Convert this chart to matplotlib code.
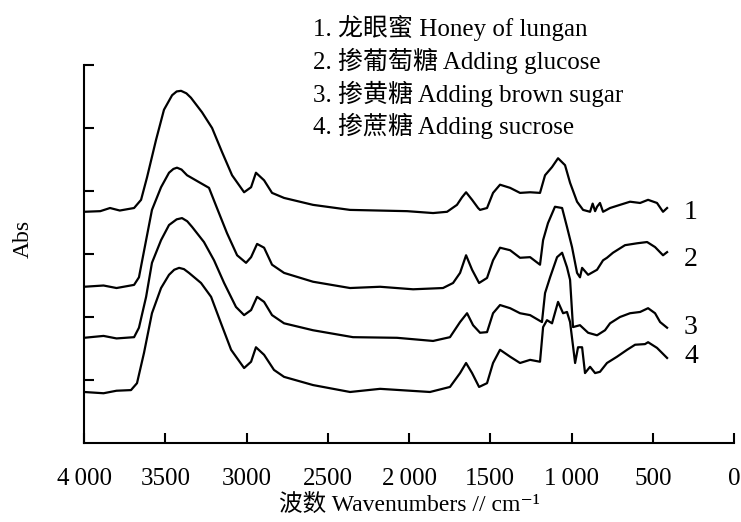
import matplotlib
matplotlib.use("Agg")
import matplotlib.pyplot as plt

plt.rcParams['font.family'] = ['Liberation Serif', 'Noto Sans CJK SC', 'DejaVu Sans']

# IR spectra: wavenumber (cm-1) and absorbance (offset, arbitrary units)
wn1 = [4000, 3900, 3840, 3780, 3692, 3649, 3612, 3557, 3508, 3458, 3430, 3403, 3370, 3342,
       3274, 3212, 3151, 3089, 3015, 2972, 2942, 2892, 2843, 2769, 2591, 2363, 2012, 1852,
       1766, 1705, 1674, 1649, 1612, 1575, 1563, 1520, 1483, 1440, 1378, 1317, 1255, 1194,
       1163, 1120, 1083, 1040, 1009, 966, 929, 886, 870, 855, 843, 825, 806, 763, 702, 640,
       578, 529, 474, 437, 412]
abs1 = [3.67, 3.68, 3.73, 3.69, 3.73, 3.86, 4.22, 4.81, 5.29, 5.52, 5.58, 5.59, 5.55, 5.48,
        5.25, 5.00, 4.62, 4.25, 3.98, 4.06, 4.29, 4.17, 3.97, 3.89, 3.78, 3.70, 3.68, 3.65,
        3.67, 3.78, 3.90, 3.98, 3.86, 3.73, 3.70, 3.73, 3.97, 4.10, 4.05, 3.97, 3.98, 3.97,
        4.25, 4.38, 4.52, 4.41, 4.13, 3.83, 3.70, 3.67, 3.80, 3.68, 3.75, 3.81, 3.67, 3.73,
        3.78, 3.83, 3.81, 3.86, 3.81, 3.67, 3.73]

wn2 = [4000, 3880, 3800, 3692, 3662, 3618, 3582, 3526, 3477, 3450, 3428, 3400, 3366, 3292,
       3231, 3182, 3120, 3058, 3003, 2972, 2935, 2892, 2843, 2769, 2591, 2363, 2178, 1975,
       1791, 1729, 1686, 1649, 1612, 1569, 1520, 1483, 1440, 1378, 1317, 1255, 1194, 1175,
       1145, 1102, 1058, 1028, 997, 966, 948, 935, 898, 843, 806, 782, 745, 671, 597, 535,
       486, 437, 412]
abs2 = [2.48, 2.50, 2.46, 2.51, 2.63, 3.22, 3.70, 4.06, 4.29, 4.35, 4.37, 4.34, 4.25, 4.14,
        4.05, 3.73, 3.33, 2.98, 2.86, 2.95, 3.16, 3.10, 2.83, 2.70, 2.56, 2.46, 2.48, 2.44,
        2.46, 2.54, 2.70, 2.98, 2.75, 2.54, 2.62, 2.90, 3.10, 3.06, 2.94, 2.95, 2.83, 3.22,
        3.49, 3.75, 3.73, 3.43, 3.11, 2.70, 2.63, 2.78, 2.67, 2.75, 2.90, 2.94, 3.02, 3.14,
        3.17, 3.19, 3.11, 2.98, 3.03]

wn3 = [4000, 3880, 3800, 3692, 3662, 3618, 3582, 3526, 3477, 3430, 3397, 3365, 3335, 3262,
       3200, 3138, 3065, 3015, 2972, 2935, 2892, 2843, 2769, 2591, 2345, 2074, 1852, 1748,
       1686, 1643, 1606, 1563, 1520, 1483, 1440, 1378, 1317, 1255, 1182, 1163, 1132, 1089,
       1058, 1028, 1009, 991, 948, 898, 843, 794, 763, 702, 640, 578, 529, 486, 455, 412]
abs3 = [1.67, 1.70, 1.66, 1.68, 1.83, 2.32, 2.86, 3.22, 3.46, 3.55, 3.57, 3.52, 3.43, 3.19,
        2.90, 2.54, 2.16, 2.03, 2.11, 2.32, 2.24, 2.03, 1.90, 1.79, 1.68, 1.67, 1.62, 1.68,
        1.92, 2.06, 1.87, 1.75, 1.76, 2.06, 2.19, 2.14, 2.06, 2.03, 1.92, 2.38, 2.63, 2.95,
        3.02, 2.79, 2.59, 1.84, 1.87, 1.75, 1.71, 1.79, 1.90, 2.00, 2.06, 2.08, 2.14, 2.06,
        1.92, 1.83]

wn4 = [4000, 3880, 3800, 3711, 3674, 3631, 3582, 3526, 3477, 3445, 3415, 3385, 3354, 3280,
       3218, 3157, 3095, 3015, 2972, 2942, 2892, 2831, 2769, 2591, 2363, 2178, 1871, 1748,
       1686, 1649, 1612, 1569, 1520, 1483, 1440, 1378, 1317, 1255, 1194, 1175, 1151, 1120,
       1083, 1052, 1028, 1009, 978, 960, 935, 917, 886, 855, 825, 782, 720, 658, 609, 548,
       529, 474, 412]
abs4 = [0.81, 0.79, 0.83, 0.84, 0.95, 1.43, 2.06, 2.46, 2.67, 2.75, 2.78, 2.76, 2.70, 2.54,
        2.32, 1.90, 1.48, 1.19, 1.29, 1.52, 1.40, 1.16, 1.05, 0.92, 0.81, 0.86, 0.81, 0.89,
        1.11, 1.27, 1.11, 0.89, 0.95, 1.27, 1.48, 1.37, 1.27, 1.32, 1.29, 1.84, 1.95, 1.90,
        2.24, 2.06, 2.08, 1.92, 1.27, 1.52, 1.52, 1.11, 1.21, 1.11, 1.13, 1.27, 1.37, 1.48,
        1.56, 1.57, 1.60, 1.51, 1.35]

curve_ids = ['1', '2', '3', '4']
curve_label_y = [3.66, 2.91, 1.83, 1.37]

legend_lines = ['1. 龙眼蜜 Honey of lungan',
                '2. 掺葡萄糖 Adding glucose',
                '3. 掺黄糖 Adding brown sugar',
                '4. 掺蔗糖 Adding sucrose']

x_ticks = [4000, 3500, 3000, 2500, 2000, 1500, 1000, 500, 0]
x_tick_labels = ['4\u2009000', '3500', '3000', '2500', '2\u2009000', '1500', '1\u2009000', '500', '0']

fig = plt.figure(figsize=(7.41, 5.22), dpi=100)
ax = fig.add_axes([0.1134, 0.1513, 0.8772, 0.7242])

for wn, ab in [(wn1, abs1), (wn2, abs2), (wn3, abs3), (wn4, abs4)]:
    ax.plot(wn, ab, color='black', lw=1.6)

for cid, yy in zip(curve_ids, curve_label_y):
    ax.text(265, yy, cid, fontsize=20, ha='center', va='center')

for i, line in enumerate(legend_lines):
    fig.text(0.4225, 0.947 - i * 0.063, line, fontsize=18, ha='left', va='center')

ax.set_xlim(4000, 0)
ax.set_ylim(0, 6)
ax.set_xticks(x_ticks)
ax.set_xticklabels(x_tick_labels, fontsize=18)
ax.set_yticks([1, 2, 3, 4, 5, 6])
ax.set_yticklabels([])
ax.tick_params(direction='in', length=7, width=1.5)
ax.tick_params(axis='x', pad=18)
for side in ['top', 'right']:
    ax.spines[side].set_visible(False)
for side in ['left', 'bottom']:
    ax.spines[side].set_linewidth(1.5)

ax.set_xlabel('波数 Wavenumbers // cm\u207b\u00b9', fontsize=17, labelpad=3)
ax.set_ylabel('Abs', fontsize=17)
ax.yaxis.set_label_coords(-0.078, 0.54)

fig.savefig('out.png', dpi=100)
